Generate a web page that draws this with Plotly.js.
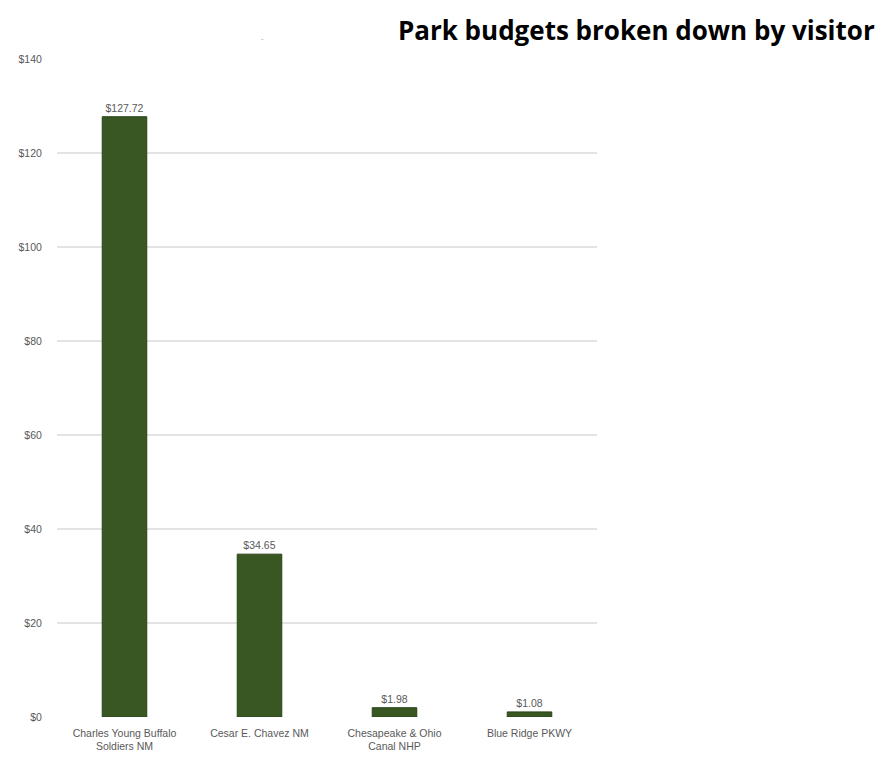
<!DOCTYPE html>
<html>
<head>
<meta charset="utf-8">
<script src="https://cdn.plot.ly/plotly-3.0.1.min.js"></script>
<style>html,body{margin:0;padding:0;background:#fff;}#chart{width:880px;height:761px;}</style>
</head>
<body>
<div id="chart"></div>
<script>
const categories = ["Charles Young Buffalo<br>Soldiers NM", "Cesar E. Chavez NM", "Chesapeake & Ohio<br>Canal NHP", "Blue Ridge PKWY"];
const values = [127.72, 34.65, 1.98, 1.08];
const valueLabels = ["$127.72", "$34.65", "$1.98", "$1.08"];
const yTicks = [0, 20, 40, 60, 80, 100, 120, 140];
const yTickLabels = ["$0", "$20", "$40", "$60", "$80", "$100", "$120", "$140"];
const chartTitle = "Park budgets broken down by visitor";

const trace = {
  type: "bar",
  x: categories,
  y: values,
  text: valueLabels,
  textposition: "outside",
  textfont: {family: "Liberation Sans, Arial, sans-serif", size: 10.5, color: "#595959"},
  cliponaxis: false,
  marker: {color: "#385723", line: {color: "#2a4419", width: 1}},
  hoverinfo: "x+y"
};

const layout = {
  width: 880, height: 761,
  margin: {l: 57, r: 283, t: 59, b: 44},
  paper_bgcolor: "#fff", plot_bgcolor: "#fff",
  bargap: 0.67,
  showlegend: false,
  title: {
    text: "<b>" + chartTitle + "</b>",
    xref: "container", yref: "container",
    x: 0.994, xanchor: "right",
    y: 0.96, yanchor: "middle",
    font: {family: "Open Sans, sans-serif", size: 26, color: "#000"}
  },
  xaxis: {
    showgrid: false, zeroline: false, showline: false,
    tickfont: {family: "Liberation Sans, Arial, sans-serif", size: 10.5, color: "#595959"},
    ticks: "outside", ticklen: 6, tickcolor: "rgba(0,0,0,0)"
  },
  yaxis: {
    range: [0, 140],
    tickvals: yTicks,
    ticktext: yTickLabels,
    showgrid: true, gridcolor: "#e3e3e3", gridwidth: 2,
    zeroline: false, showline: false,
    ticks: "outside", ticklen: 12, tickcolor: "rgba(0,0,0,0)",
    tickfont: {family: "Liberation Sans, Arial, sans-serif", size: 10.5, color: "#595959"}
  },
  annotations: [{
    text: "-", xref: "paper", yref: "paper", x: (262-57)/540, y: 1 + (59-30)/658,
    showarrow: false, font: {size: 8, color: "#999"}
  }]
};

Plotly.newPlot("chart", [trace], layout, {displayModeBar: false, staticPlot: true});
</script>
</body>
</html>
